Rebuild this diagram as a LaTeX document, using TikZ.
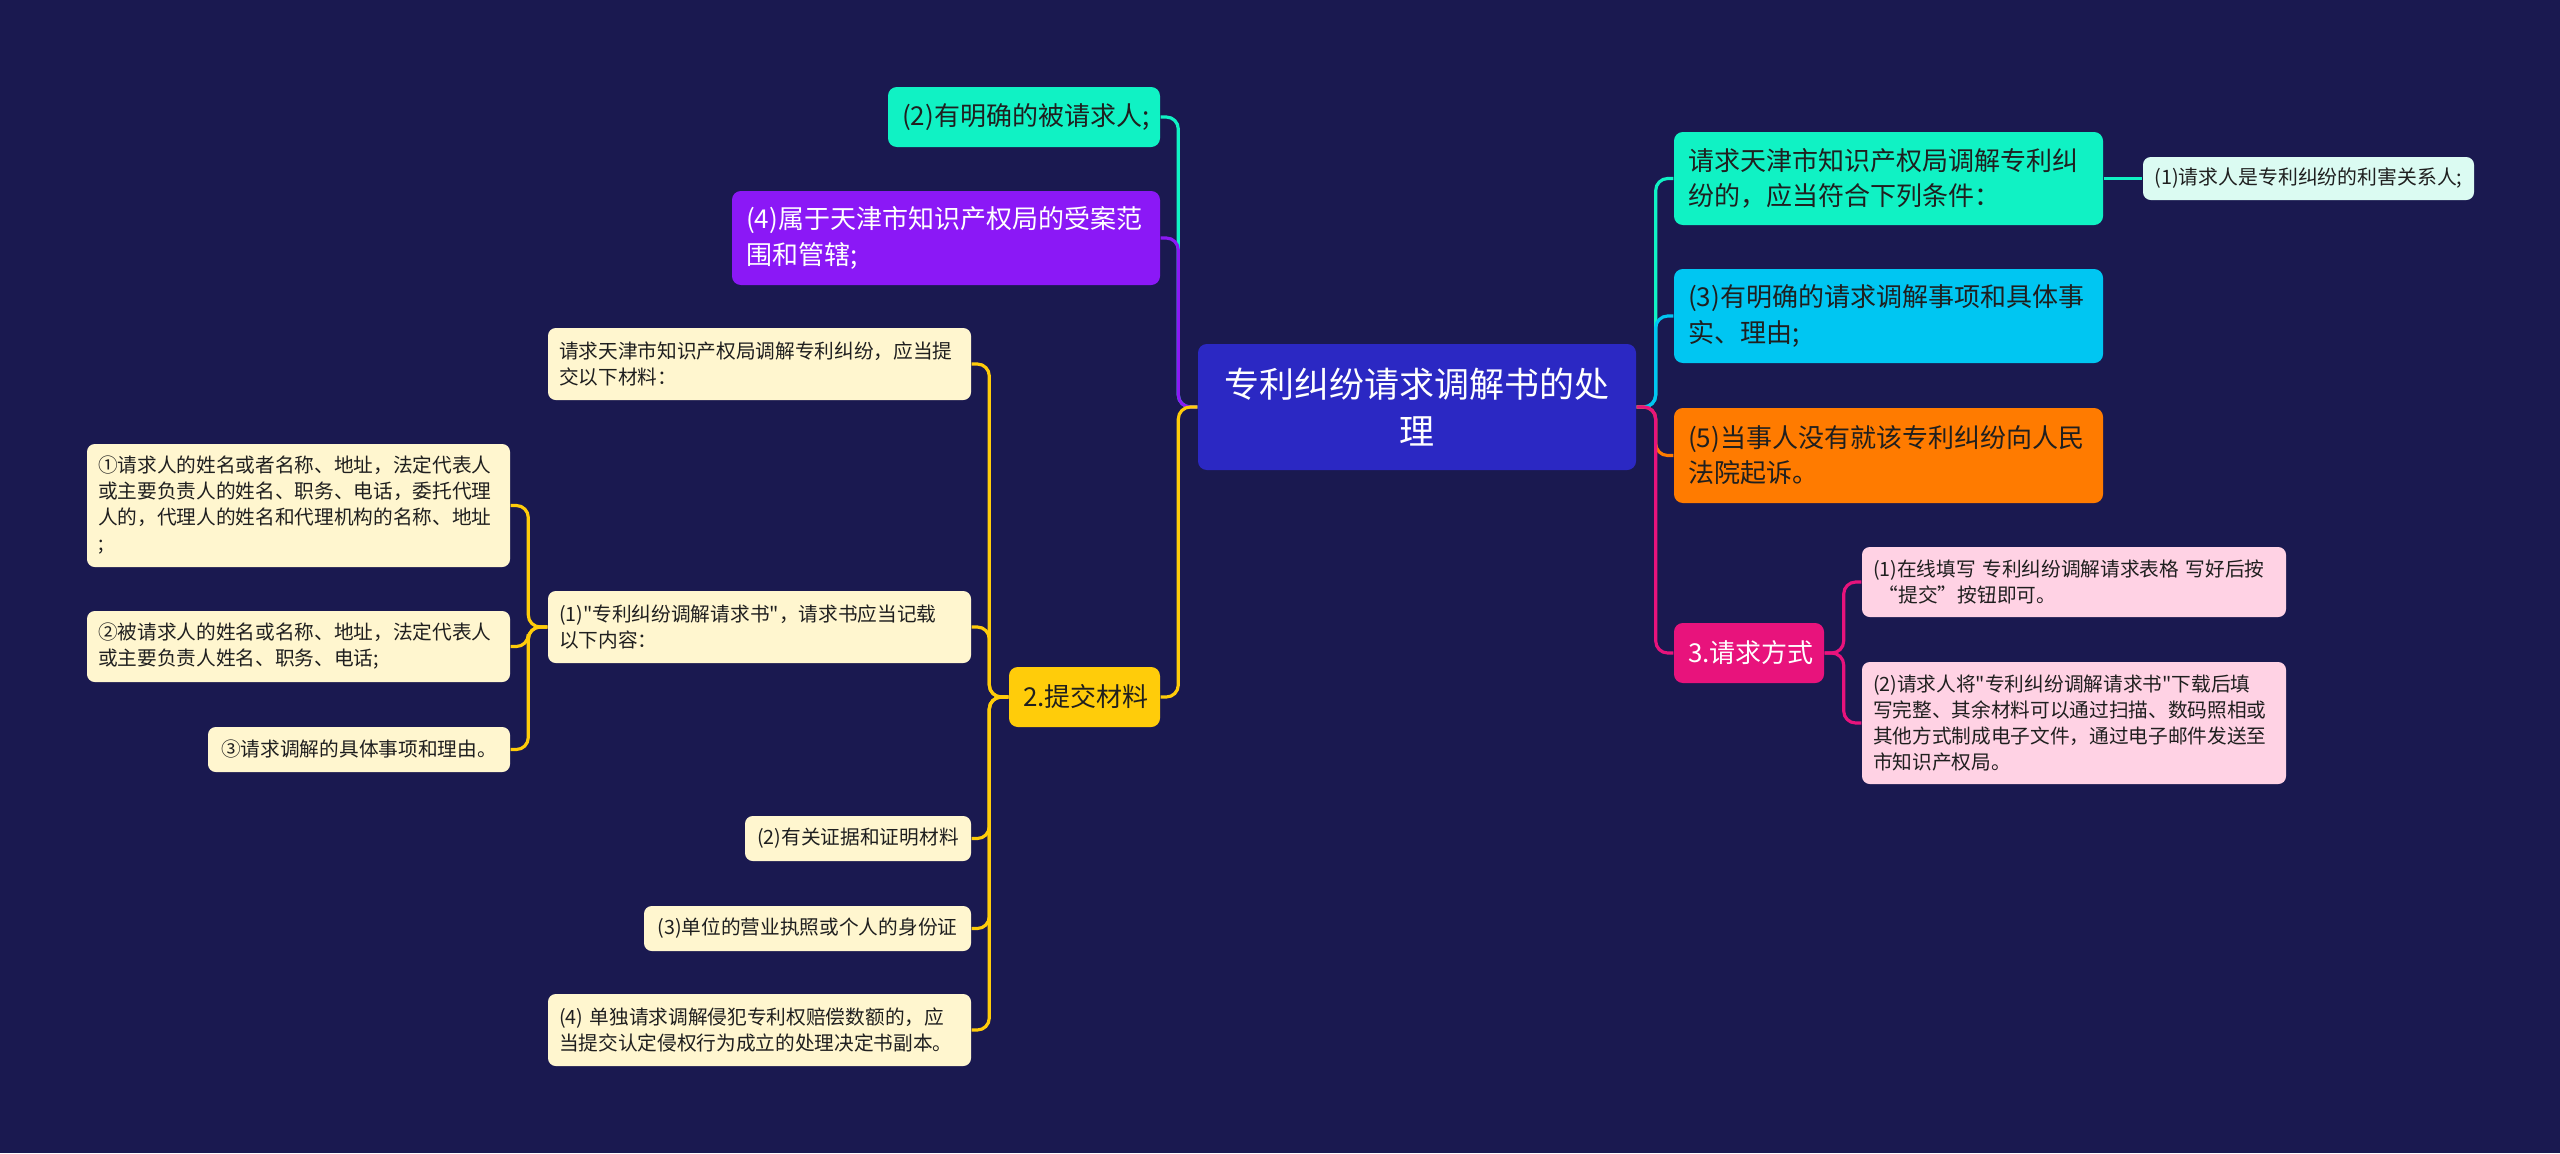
\documentclass[tikz,border=0pt]{standalone}
\usepackage{fontspec}
\newfontfamily\cnfont{Noto Sans CJK SC}
\usepackage{xcolor}
\definecolor{bgnavy}{HTML}{1A1950}
\definecolor{rootblue}{HTML}{2B28C3}
\definecolor{tealtop}{HTML}{10F2C4}
\definecolor{purpletop}{HTML}{8B18F6}
\definecolor{goldtop}{HTML}{FFCC0A}
\definecolor{skytop}{HTML}{00C6F2}
\definecolor{ambertop}{HTML}{FF7B00}
\definecolor{rosetop}{HTML}{E8137C}
\definecolor{creamleaf}{HTML}{FFF6CF}
\definecolor{pinkleaf}{HTML}{FFD2E4}
\definecolor{mintleaf}{HTML}{DBFBF2}
\definecolor{inkdark}{HTML}{1F1F1F}

\begin{document}
\begin{tikzpicture}[
    x=0.1mm,y=-0.1mm,
    root/.style={rounded corners=2.5pt,fill=rootblue,text=white,align=center,inner xsep=1.4mm,inner ysep=0pt,
      font=\cnfont\fontsize{9.96}{13.4}\selectfont},
    topic/.style={rounded corners=2.5pt,inner xsep=1.4mm,inner ysep=0pt,align=left,text=inkdark,
      font=\cnfont\fontsize{7.4}{10}\selectfont},
    leaf/.style={rounded corners=2.2pt,inner xsep=1.1mm,inner ysep=0pt,align=left,text=inkdark,
      font=\cnfont\fontsize{5.6}{7.4}\selectfont},
    link/.style={line width=0.9pt,rounded corners=1.2mm}
  ]
    \fill[bgnavy] (0,0) rectangle (2560,1153);
    \useasboundingbox (0,0) rectangle (2560,1153);

    % centre
    \node[root,text width=41mm,minimum height=12.6mm] (root) at (1417,407)
      {专利纠纷请求调解书的处\\理};

    % left branches
    \node[topic,fill=tealtop,text width=24.4mm,minimum height=6mm,align=center] (need) at (1024,117)
      {(2)有明确的被请求人;};
    \node[topic,fill=purpletop,text=white,text width=40mm,minimum height=9.4mm] (scope) at (946,238)
      {(4)属于天津市知识产权局的受案范\\围和管辖;};
    \node[topic,fill=goldtop,text width=12.3mm,minimum height=6mm,align=center] (submit) at (1084.5,697)
      {2.提交材料};

    \node[leaf,fill=creamleaf,text width=40.1mm,minimum height=7.2mm] (askmat) at (759.5,364)
      {请求天津市知识产权局调解专利纠纷，应当提\\交以下材料：};
    \node[leaf,fill=creamleaf,text width=40.1mm,minimum height=7.2mm] (letter) at (759.5,627)
      {(1)"专利纠纷调解请求书"，请求书应当记载\\以下内容：};
    \node[leaf,fill=creamleaf,text width=20.4mm,minimum height=4.5mm,align=center] (proof) at (858,838.5)
      {(2)有关证据和证明材料};
    \node[leaf,fill=creamleaf,text width=30.5mm,minimum height=4.5mm,align=center] (licence) at (807.5,928.5)
      {(3)单位的营业执照或个人的身份证};
    \node[leaf,fill=creamleaf,text width=40.1mm,minimum height=7.2mm] (ruling) at (759.5,1030)
      {(4) 单独请求调解侵犯专利权赔偿数额的，应\\当提交认定侵权行为成立的处理决定书副本。};

    \node[leaf,fill=creamleaf,text width=40.1mm,minimum height=12.3mm] (applicant) at (298.5,505.5)
      {①请求人的姓名或者名称、地址，法定代表人\\或主要负责人的姓名、职务、电话，委托代理\\人的，代理人的姓名和代理机构的名称、地址\\;};
    \node[leaf,fill=creamleaf,text width=40.1mm,minimum height=7.1mm] (respondent) at (298.5,646.5)
      {②被请求人的姓名或名称、地址，法定代表人\\或主要负责人姓名、职务、电话;};
    \node[leaf,fill=creamleaf,text width=28mm,minimum height=4.5mm,align=center] (reason) at (359,749.5)
      {③请求调解的具体事项和理由。};

    % right branches
    \node[topic,fill=tealtop,text width=40.1mm,minimum height=9.3mm] (cond) at (1888.5,178.5)
      {请求天津市知识产权局调解专利纠\\纷的，应当符合下列条件：};
    \node[leaf,fill=mintleaf,text width=31.1mm,minimum height=4.3mm,align=center,inner xsep=1mm,
      font=\cnfont\fontsize{5.65}{7.4}\selectfont] (party) at (2308.5,178.5)
      {(1)请求人是专利纠纷的利害关系人;};
    \node[topic,fill=skytop,text width=40.1mm,minimum height=9.4mm] (fact) at (1888.5,316)
      {(3)有明确的请求调解事项和具体事\\实、理由;};
    \node[topic,fill=ambertop,text width=40.1mm,minimum height=9.5mm] (court) at (1888.5,455.5)
      {(5)当事人没有就该专利纠纷向人民\\法院起诉。};
    \node[topic,fill=rosetop,text=white,text width=12.2mm,minimum height=6mm,align=center] (method) at (1749,653)
      {3.请求方式};

    \node[leaf,fill=pinkleaf,text width=40.2mm,minimum height=7mm] (online) at (2074,582)
      {(1)在线填写 专利纠纷调解请求表格 写好后按\\\hspace*{0.3em}“提交”按钮即可。};
    \node[leaf,fill=pinkleaf,text width=40.2mm,minimum height=12.2mm] (email) at (2074,723)
      {(2)请求人将"专利纠纷调解请求书"下载后填\\写完整、其余材料可以通过扫描、数码照相或\\其他方式制成电子文件，通过电子邮件发送至\\市知识产权局。};

    % connectors, left
    \draw[link,draw=tealtop] (root.west) -- ++(-19,0) |- (need.east);
    \draw[link,draw=purpletop] (root.west) -- ++(-19,0) |- (scope.east);
    \draw[link,draw=goldtop] (root.west) -- ++(-19,0) |- (submit.east);

    \draw[link,draw=goldtop] (submit.west) -- ++(-19,0) |- (askmat.east);
    \draw[link,draw=goldtop] (submit.west) -- ++(-19,0) |- (letter.east);
    \draw[link,draw=goldtop] (submit.west) -- ++(-19,0) |- (proof.east);
    \draw[link,draw=goldtop] (submit.west) -- ++(-19,0) |- (licence.east);
    \draw[link,draw=goldtop] (submit.west) -- ++(-19,0) |- (ruling.east);

    \draw[link,draw=goldtop] (letter.west) -- ++(-19,0) |- (applicant.east);
    \draw[link,draw=goldtop] (letter.west) -- ++(-19,0) |- (respondent.east);
    \draw[link,draw=goldtop] (letter.west) -- ++(-19,0) |- (reason.east);

    % connectors, right
    \draw[link,draw=tealtop] (root.east) -- ++(19,0) |- (cond.west);
    \draw[link,draw=skytop] (root.east) -- ++(19,0) |- (fact.west);
    \draw[link,draw=ambertop] (root.east) -- ++(19,0) |- (court.west);
    \draw[link,draw=rosetop] (root.east) -- ++(19,0) |- (method.west);

    \draw[link,draw=tealtop] (cond.east) -- (party.west);
    \draw[link,draw=rosetop] (method.east) -- ++(19,0) |- (online.west);
    \draw[link,draw=rosetop] (method.east) -- ++(19,0) |- (email.west);
  \end{tikzpicture}
\end{document}
